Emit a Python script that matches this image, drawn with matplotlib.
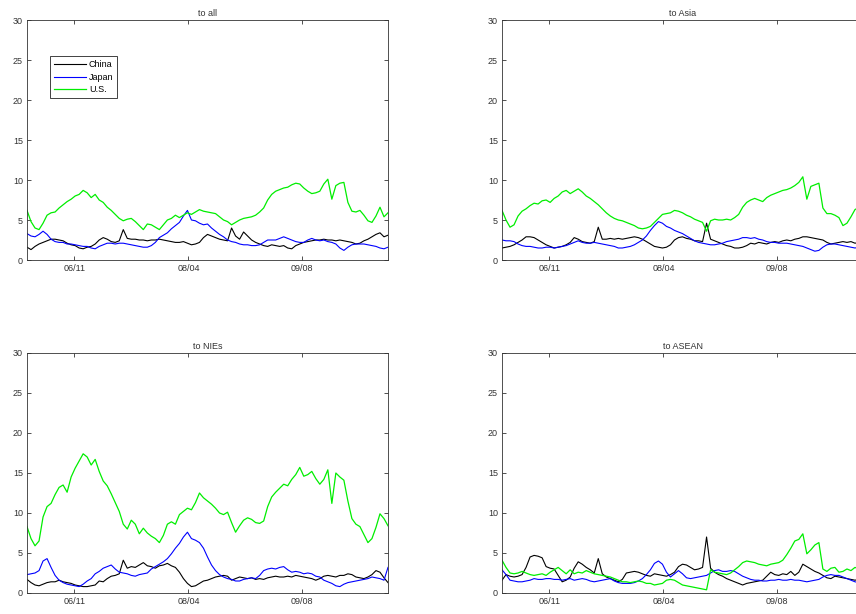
import numpy as np
import matplotlib
matplotlib.use('Agg')
import matplotlib.pyplot as plt

plt.rcParams['font.family'] = ['Liberation Sans', 'DejaVu Sans']

# tick labels (month marks) and their positions on the sample index
tick_labels = ['06/11', '08/04', '09/08']
tick_pos = [11.75, 40.25, 68.5]

# ---- to all ----
all_china = [1.6, 1.3, 1.7, 2.0, 2.2, 2.4, 2.6, 2.6, 2.5, 2.4, 2.1, 1.9, 1.8, 1.5, 1.4, 1.6, 1.7, 2.0, 2.5, 2.8,
             2.6, 2.3, 2.2, 2.4, 3.8, 2.7, 2.6, 2.6, 2.5, 2.5, 2.4, 2.5, 2.5, 2.6, 2.5, 2.4, 2.3, 2.2, 2.2, 2.3,
             2.1, 1.9, 2.0, 2.2, 2.8, 3.2, 3.0, 2.8, 2.6, 2.5, 2.4, 4.0, 3.0, 2.6, 3.5, 3.0, 2.5, 2.2, 2.0, 1.8,
             1.7, 1.9, 1.8, 1.7, 1.8, 1.5, 1.4, 1.8, 2.0, 2.2, 2.3, 2.4, 2.5, 2.5, 2.6, 2.5, 2.5, 2.4, 2.5, 2.4,
             2.3, 2.2, 2.0, 2.1, 2.4, 2.6, 2.9, 3.2, 3.4, 2.9, 3.1]
all_japan = [3.3, 3.0, 2.9, 3.2, 3.6, 3.2, 2.6, 2.3, 2.2, 2.2, 2.0, 2.0, 1.9, 1.8, 1.7, 1.7, 1.5, 1.4, 1.7, 1.9,
             2.1, 2.1, 2.0, 2.1, 2.1, 2.0, 1.9, 1.8, 1.7, 1.6, 1.6, 1.8, 2.2, 2.8, 3.1, 3.4, 3.9, 4.3, 4.7, 5.5,
             6.2, 5.0, 4.9, 4.6, 4.4, 4.5, 4.0, 3.6, 3.2, 2.9, 2.5, 2.3, 2.2, 2.0, 1.9, 1.9, 1.8, 1.8, 1.9, 2.2,
             2.5, 2.5, 2.5, 2.7, 2.9, 2.7, 2.5, 2.3, 2.2, 2.2, 2.5, 2.7, 2.5, 2.4, 2.5, 2.3, 2.2, 2.0, 1.5, 1.2,
             1.6, 1.9, 2.0, 2.0, 2.0, 1.9, 1.8, 1.7, 1.5, 1.4, 1.6]
all_us = [6.2, 4.8, 4.0, 3.8, 4.6, 5.6, 5.9, 6.0, 6.5, 6.9, 7.3, 7.6, 8.0, 8.2, 8.7, 8.4, 7.8, 8.2, 7.5, 7.2,
          6.6, 6.2, 5.7, 5.2, 4.9, 5.1, 5.2, 4.8, 4.3, 3.8, 4.5, 4.4, 4.1, 3.8, 4.4, 5.0, 5.2, 5.6, 5.3, 5.6,
          5.9, 5.7, 6.0, 6.3, 6.1, 6.0, 5.9, 5.8, 5.4, 5.0, 4.8, 4.4, 4.7, 5.0, 5.2, 5.3, 5.4, 5.6, 6.0, 6.5,
          7.5, 8.2, 8.6, 8.8, 9.0, 9.1, 9.4, 9.6, 9.5, 9.0, 8.6, 8.3, 8.4, 8.6, 9.5, 10.1, 7.6, 9.3, 9.6, 9.7,
          7.2, 6.1, 6.0, 6.2, 5.6, 4.9, 4.7, 5.5, 6.6, 5.4, 5.9]

# ---- to Asia ----
asia_china = [1.5, 1.6, 1.7, 1.9, 2.2, 2.5, 2.9, 2.9, 2.8, 2.5, 2.2, 1.9, 1.7, 1.5, 1.6, 1.7, 1.9, 2.2, 2.8, 2.6,
              2.3, 2.2, 2.1, 2.3, 4.1, 2.6, 2.6, 2.7, 2.6, 2.7, 2.6, 2.7, 2.8, 2.9, 2.8, 2.6, 2.3, 2.0, 1.7, 1.6,
              1.5, 1.6, 1.9, 2.5, 2.8, 2.9, 2.7, 2.6, 2.4, 2.4, 2.3, 4.6, 2.6, 2.4, 2.2, 2.0, 1.8, 1.7, 1.5, 1.5,
              1.6, 1.8, 2.1, 2.0, 2.2, 2.1, 2.0, 2.2, 2.3, 2.2, 2.4, 2.5, 2.4, 2.6, 2.7, 2.9, 2.9, 2.8, 2.7, 2.6,
              2.5, 2.2, 2.0, 2.1, 2.2, 2.3, 2.2, 2.3, 2.1, 2.2, 2.2]
asia_japan = [2.5, 2.4, 2.4, 2.3, 2.0, 1.8, 1.7, 1.7, 1.6, 1.5, 1.5, 1.6, 1.6, 1.5, 1.6, 1.7, 1.8, 2.0, 2.2, 2.4,
              2.2, 2.1, 2.1, 2.2, 2.1, 2.0, 1.9, 1.8, 1.7, 1.5, 1.5, 1.6, 1.7, 1.9, 2.2, 2.5, 3.0, 3.7, 4.3, 4.8,
              4.6, 4.2, 4.0, 3.7, 3.5, 3.3, 3.0, 2.7, 2.4, 2.2, 2.1, 2.0, 1.9, 1.9, 2.0, 2.1, 2.3, 2.4, 2.5, 2.6,
              2.8, 2.8, 2.7, 2.8, 2.6, 2.5, 2.3, 2.2, 2.2, 2.1, 2.1, 2.1, 2.0, 1.9, 1.8, 1.7, 1.5, 1.3, 1.1, 1.2,
              1.6, 1.9, 2.0, 2.0, 1.9, 1.8, 1.7, 1.6, 1.5, 1.6, 1.6]
asia_us = [6.2, 5.0, 4.1, 4.4, 5.5, 6.1, 6.4, 6.8, 7.1, 7.0, 7.4, 7.5, 7.2, 7.7, 8.0, 8.5, 8.7, 8.3, 8.6, 8.9,
           8.5, 8.0, 7.7, 7.3, 6.9, 6.4, 5.9, 5.5, 5.2, 5.0, 4.9, 4.7, 4.5, 4.3, 4.0, 3.9, 4.0, 4.2, 4.7, 5.2,
           5.7, 5.8, 5.9, 6.2, 6.1, 5.9, 5.6, 5.4, 5.1, 4.9, 4.7, 3.6, 4.9, 5.1, 5.0, 5.0, 5.1, 5.0, 5.3, 5.7,
           6.6, 7.2, 7.5, 7.7, 7.5, 7.3, 7.8, 8.1, 8.3, 8.5, 8.7, 8.8, 9.0, 9.3, 9.7, 10.4, 7.6, 9.2, 9.4, 9.6,
           6.5, 5.8, 5.8, 5.6, 5.3, 4.3, 4.6, 5.4, 6.3, 6.6, 6.8]

# ---- to NIEs ----
nies_china = [1.7, 1.3, 1.0, 0.9, 1.1, 1.3, 1.4, 1.4, 1.6, 1.4, 1.3, 1.2, 1.0, 0.9, 0.8, 0.8, 0.9, 1.0, 1.5, 1.4,
              1.8, 2.1, 2.2, 2.4, 4.1, 3.1, 3.3, 3.2, 3.5, 3.8, 3.4, 3.3, 3.1, 3.4, 3.5, 3.7, 3.4, 3.2, 2.6, 1.8,
              1.2, 0.8, 0.9, 1.2, 1.5, 1.6, 1.8, 2.0, 2.1, 2.2, 2.1, 1.6, 1.8, 2.0, 1.9, 1.8, 1.9, 1.7, 1.8, 1.7,
              1.9, 2.0, 2.1, 2.0, 2.0, 2.1, 2.0, 2.2, 2.1, 2.0, 1.9, 1.8, 1.6, 1.8, 2.1, 2.2, 2.1, 2.0, 2.2, 2.2,
              2.4, 2.3, 2.0, 1.9, 1.8, 2.0, 2.3, 2.8, 2.6, 1.9, 1.3]
nies_japan = [2.3, 2.4, 2.5, 2.8, 4.0, 4.3, 3.2, 2.2, 1.6, 1.3, 1.1, 1.0, 0.9, 0.8, 1.1, 1.5, 1.8, 2.4, 2.7, 3.1,
              3.3, 3.5, 3.0, 2.6, 2.5, 2.4, 2.2, 2.1, 2.3, 2.4, 2.5, 3.0, 3.3, 3.6, 3.9, 4.3, 4.9, 5.6, 6.2, 7.0,
              7.6, 6.8, 6.6, 6.3, 5.6, 4.5, 3.5, 2.8, 2.3, 2.0, 1.8, 1.7, 1.5, 1.5, 1.7, 1.8, 1.9, 1.8, 2.2, 2.8,
              3.0, 3.1, 3.0, 3.2, 3.3, 2.9, 2.6, 2.7, 2.6, 2.4, 2.5, 2.4, 2.1, 2.0, 1.6, 1.4, 1.2, 0.9, 0.8, 1.1,
              1.3, 1.4, 1.5, 1.6, 1.7, 1.8, 2.0, 1.9, 1.8, 1.6, 3.2]
nies_us = [8.3, 6.8, 5.9, 6.5, 9.5, 10.8, 11.2, 12.3, 13.2, 13.5, 12.6, 14.5, 15.6, 16.5, 17.4, 17.0, 16.0, 16.7,
           15.2, 14.0, 13.4, 12.4, 11.3, 10.2, 8.6, 8.0, 9.1, 8.6, 7.4, 8.1, 7.5, 7.1, 6.8, 6.3, 7.2, 8.6, 8.9,
           8.6, 9.8, 10.2, 10.6, 10.4, 11.3, 12.5, 11.9, 11.5, 11.1, 10.6, 10.0, 9.8, 10.1, 8.8, 7.6, 8.4, 9.1,
           9.4, 9.2, 8.8, 8.7, 9.0, 10.8, 12.0, 12.6, 13.1, 13.6, 13.4, 14.2, 14.8, 15.7, 14.6, 14.8, 15.2, 14.3,
           13.6, 14.2, 15.4, 11.2, 15.0, 14.5, 14.1, 11.5, 9.3, 8.6, 8.3, 7.3, 6.3, 6.8, 8.2, 9.9, 9.3, 8.4]

# ---- to ASEAN ----
asean_china = [1.6, 2.3, 2.1, 2.0, 2.1, 2.3, 3.2, 4.5, 4.7, 4.6, 4.4, 3.3, 3.1, 3.0, 2.2, 1.4, 1.6, 2.0, 3.1, 3.9,
               3.6, 3.2, 2.9, 2.5, 4.3, 2.4, 2.0, 1.8, 1.6, 1.4, 1.7, 2.5, 2.6, 2.7, 2.6, 2.4, 2.2, 2.1, 2.4, 2.3,
               2.2, 2.1, 2.3, 2.6, 3.3, 3.6, 3.5, 3.2, 2.9, 3.0, 3.2, 7.0, 3.1, 2.6, 2.3, 2.1, 1.8, 1.6, 1.4, 1.2,
               1.0, 1.2, 1.3, 1.4, 1.5, 1.6, 2.1, 2.6, 2.3, 2.2, 2.4, 2.3, 2.7, 2.2, 2.6, 3.6, 3.3, 3.0, 2.7, 2.5,
               2.2, 1.9, 1.8, 2.1, 2.0, 1.9, 1.8, 1.7, 1.6, 1.7, 1.6]
asean_japan = [2.9, 2.3, 1.6, 1.5, 1.4, 1.4, 1.5, 1.6, 1.8, 1.7, 1.7, 1.8, 1.8, 1.7, 1.7, 1.6, 1.7, 1.8, 1.6, 1.7,
               1.8, 1.7, 1.5, 1.4, 1.5, 1.6, 1.7, 1.8, 1.5, 1.3, 1.2, 1.2, 1.2, 1.3, 1.5, 1.8, 2.3, 2.9, 3.7, 4.0,
               3.6, 2.6, 2.0, 2.4, 2.8, 2.4, 1.9, 1.8, 1.9, 2.0, 2.1, 2.2, 2.5, 2.8, 2.9, 2.7, 2.7, 2.8, 2.7, 2.4,
               2.1, 1.9, 1.7, 1.6, 1.6, 1.5, 1.5, 1.6, 1.6, 1.7, 1.6, 1.6, 1.7, 1.6, 1.6, 1.5, 1.4, 1.5, 1.6, 1.7,
               2.0, 2.2, 2.3, 2.2, 2.2, 2.0, 1.8, 1.6, 1.4, 1.3, 1.3]
asean_us = [4.1, 3.2, 2.5, 2.4, 2.5, 2.7, 2.5, 2.3, 2.2, 2.3, 2.4, 2.2, 2.6, 2.9, 3.2, 2.8, 2.4, 2.9, 2.4, 2.6,
            2.5, 2.8, 2.6, 2.4, 2.3, 2.2, 2.1, 2.0, 1.8, 1.6, 1.4, 1.4, 1.3, 1.4, 1.5, 1.4, 1.2, 1.2, 1.0, 1.1,
            1.2, 1.6, 1.7, 1.6, 1.3, 1.0, 0.9, 0.8, 0.7, 0.6, 0.5, 0.4, 2.9, 2.6, 2.5, 2.4, 2.3, 2.5, 2.9, 3.3,
            3.8, 4.0, 3.9, 3.8, 3.6, 3.5, 3.4, 3.6, 3.7, 3.8, 4.1, 4.8, 5.6, 6.5, 6.7, 7.4, 4.9, 5.4, 6.0, 6.3,
            3.0, 2.7, 3.1, 3.2, 2.6, 2.7, 3.0, 2.8, 3.2, 3.0, 2.9]

panels = [
    ('to all', all_china, all_japan, all_us),
    ('to Asia', asia_china, asia_japan, asia_us),
    ('to NIEs', nies_china, nies_japan, nies_us),
    ('to ASEAN', asean_china, asean_japan, asean_us),
]

# axes boxes in figure fraction (right column runs past the figure edge)
boxes = [
    [27/856, 354/614, 361/856, 240/614],
    [502/856, 354/614, 361/856, 240/614],
    [27/856, 21/614, 361/856, 240/614],
    [502/856, 21/614, 361/856, 240/614],
]

fig = plt.figure(figsize=(8.56, 6.14), dpi=100)

for k, (title, china, japan, us) in enumerate(panels):
    ax = fig.add_axes(boxes[k])
    x = np.arange(len(china))
    ax.plot(x, china, color='k', lw=0.8, label='China')
    ax.plot(x, japan, color='#0000ff', lw=0.8, label='Japan')
    ax.plot(x, us, color='#00ee00', lw=0.9, label='U.S.')
    ax.set_xlim(0, len(china) - 1)
    ax.set_ylim(0, 30)
    ax.set_yticks([0, 5, 10, 15, 20, 25, 30])
    ax.set_xticks(tick_pos)
    ax.set_xticklabels(tick_labels)
    ax.tick_params(direction='in', length=3, width=0.6, labelsize=6.5,
                   top=True, right=True, colors='#333333', pad=3)
    for s in ax.spines.values():
        s.set_linewidth(0.6)
        s.set_color('#333333')
    ax.set_title(title, fontsize=6.5, pad=3, color='#333333')
    if k == 0:
        leg = ax.legend(loc='upper left', bbox_to_anchor=(0.064, 0.848), fontsize=6.5,
                        handlelength=3.6, fancybox=False, framealpha=1, borderaxespad=0,
                        borderpad=0.4, labelspacing=0.4, handletextpad=0.3)
        leg.get_frame().set_edgecolor('#222222')
        leg.get_frame().set_linewidth(0.6)

fig.savefig('out.png', dpi=100)
